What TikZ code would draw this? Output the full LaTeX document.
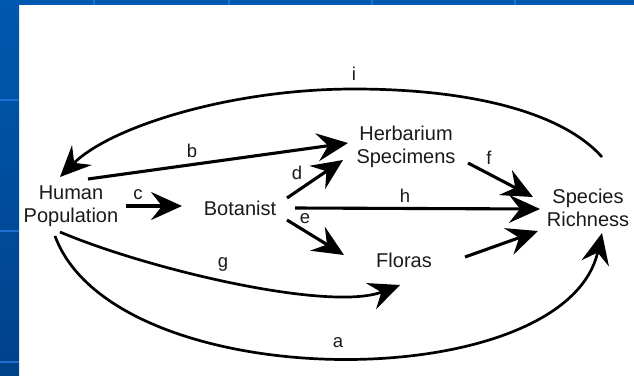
\documentclass[tikz,border=0pt]{standalone}
\usepackage{fontspec}
\setmainfont{Liberation Sans}
\usetikzlibrary{arrows.meta,calc}
\definecolor{slideA}{HTML}{0058B0}
\definecolor{slideB}{HTML}{00428A}
\definecolor{slideL}{HTML}{1F6FD0}
\definecolor{txtcol}{HTML}{1A1A1A}
\begin{document}
\begin{tikzpicture}[x=1pt,y=-1pt,
  txt/.style={font=\fontsize{20}{23}\selectfont, text=txtcol, align=center, inner sep=0pt},
  lbl/.style={font=\fontsize{18.5}{20}\selectfont, text=txtcol, inner sep=0pt},
  arr/.style={line width=3.1pt, -{Stealth[length=31pt,width=28pt,inset=11pt]}},
  carr/.style={line width=2.7pt, -{Stealth[length=31pt,width=28pt,inset=11pt]}}]
\useasboundingbox (0,0) rectangle (634,375);
\fill[white] (0,0) rectangle (634,375);
% slide frame
\shade[top color=slideA, bottom color=slideB] (0,0) rectangle (19,375);
\fill[slideA] (19,0) rectangle (634,5);
\foreach \yy in {99,230,361} \fill[slideL] (0,\yy) rectangle (19,\yy+2);
\foreach \xx in {93,228,371,514} \fill[slideL] (\xx,0) rectangle (\xx+1.5,5);
% nodes
\node[txt] (hp) at (71,206) {Human\\Population};
\node[txt] (bot) at (240,208) {Botanist};
\node[txt] (herb) at (406,147) {Herbarium\\Specimens};
\node[txt] (flo) at (404,260) {Floras};
\node[txt] (sr) at (588,208) {Species\\Richness};
\coordinate (itop) at (354,89);
% straight connectors
\draw[arr] ($(hp)+(55,0)$) -- ($(bot)+(-58,-2)$);
\draw[arr] ($(hp)+(17,-27)$) -- ($(herb)+(-58,-4)$);
\draw[arr] ($(bot)+(47,-10)$) -- ($(herb)+(-63,13)$);
\draw[arr] ($(bot)+(47,12)$) -- ($(flo)+(-60,-5)$);
\draw[arr] ($(bot)+(55,0)$) -- ($(sr)+(-48,1)$);
\draw[arr] ($(herb)+(62,16)$) -- ($(sr)+(-55,-11)$);
\draw[arr] ($(flo)+(61,-3)$) -- ($(sr)+(-50,23)$);
% curved connectors
\draw[carr] ($(sr)+(14,-51)$) .. controls (562,112) and (470,89) .. (itop)
   .. controls (230,89) and (110,127) .. ($(hp)+(-11,-29)$);
\draw[carr] ($(hp)+(-16,30)$) .. controls (115,398) and (565,398) .. ($(sr)+(14,25)$);
\draw[carr] ($(hp)+(-11,26)$) .. controls (150,270) and (330,312) .. ($(flo)+(-4,25)$);
% labels
\node[lbl] (lb) at (192,151) {b};
\node[lbl] (lc) at (138,195) {c};
\node[lbl] (ld) at (297,173) {d};
\node[lbl] (le) at (305,219) {e};
\node[lbl] (lh) at (405,196) {h};
\node[lbl] (lf) at (489,158) {f};
\node[lbl] (lg) at (223,264) {g};
\node[lbl] (li) at (354,74) {i};
\node[lbl] (la) at (338,343) {a};
\end{tikzpicture}
\end{document}
